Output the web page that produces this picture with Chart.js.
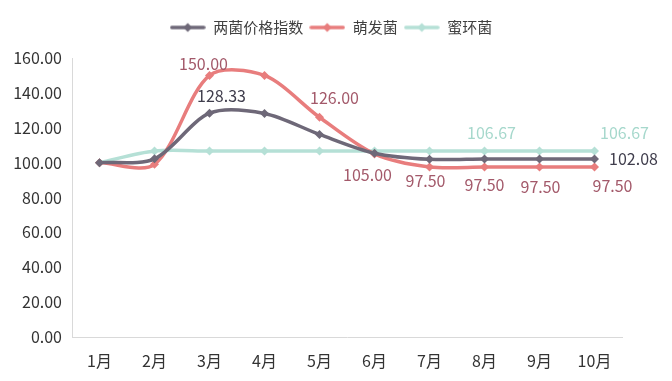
<!DOCTYPE html>
<html>
<head>
<meta charset="utf-8">
<script src="https://cdn.jsdelivr.net/npm/chart.js@4.4.0/dist/chart.umd.min.js"></script>
<style>
    html, body { margin: 0; padding: 0; background: #fff; }
    #wrap { width: 672px; height: 381px; }
</style>
</head>
<body>
<div id="wrap"><canvas id="chart"></canvas></div>
<script>
// 数据
const months = ['1月', '2月', '3月', '4月', '5月', '6月', '7月', '8月', '9月', '10月'];
const indexValues = [100, 102.2, 128.33, 128.2, 116.2, 105.4, 101.9, 102.08, 102.08, 102.08];
const sproutValues = [100, 99.0, 150, 150, 126, 105, 97.5, 97.5, 97.5, 97.5];
const honeyValues = [100, 106.67, 106.67, 106.67, 106.67, 106.67, 106.67, 106.67, 106.67, 106.67];
const yTicks = [0, 20, 40, 60, 80, 100, 120, 140, 160];

const FONT = '"Noto Sans CJK SC", "Noto Sans", sans-serif';

// 图例图标：线 + 菱形
function legendIcon(color) {
    const c = document.createElement('canvas');
    c.width = 36;
    c.height = 12;
    const ctx = c.getContext('2d');
    ctx.strokeStyle = color;
    ctx.lineWidth = 3.5;
    ctx.lineCap = 'round';
    ctx.beginPath();
    ctx.moveTo(2, 6);
    ctx.lineTo(34, 6);
    ctx.stroke();
    ctx.fillStyle = color;
    ctx.beginPath();
    ctx.moveTo(18, 1.5);
    ctx.lineTo(22.5, 6);
    ctx.lineTo(18, 10.5);
    ctx.lineTo(13.5, 6);
    ctx.closePath();
    ctx.fill();
    return c;
}

// 数据标签（哪个点、相对偏移）
const labelSpecs = [
    { color: '#3f3d4c', items: [{ i: 2, dx: 12, dy: -17 }, { i: 9, dx: 39, dy: 0 }] },
    { color: '#a3596a', items: [{ i: 2, dx: -6, dy: -12 }, { i: 4, dx: 15, dy: -19 }, { i: 5, dx: -7, dy: 21 },
                                 { i: 6, dx: -4, dy: 14 }, { i: 7, dx: 0, dy: 18 }, { i: 8, dx: 1, dy: 20 }, { i: 9, dx: 18, dy: 19 }] },
    { color: '#a6d8cc', items: [{ i: 7, dx: 7, dy: -18 }, { i: 9, dx: 30, dy: -18 }] }
];

const dataLabels = {
    id: 'dataLabels',
    afterDatasetsDraw(chart) {
        const ctx = chart.ctx;
        ctx.save();
        ctx.font = '16px ' + FONT;
        ctx.textAlign = 'center';
        ctx.textBaseline = 'middle';
        labelSpecs.forEach((spec, di) => {
            const meta = chart.getDatasetMeta(di);
            const values = chart.data.datasets[di].data;
            ctx.fillStyle = spec.color;
            spec.items.forEach(it => {
                const pt = meta.data[it.i];
                ctx.fillText(values[it.i].toFixed(2), pt.x + it.dx, pt.y + it.dy);
            });
        });
        ctx.restore();
    }
};

// 图例下方留空，并整体右移
const legendGap = {
    id: 'legendGap',
    afterInit(chart) {
        const legend = chart.legend;
        const fit = legend.fit;
        legend.fit = function () {
            fit.call(this);
            this.height += 13;
        };
        const draw = legend.draw;
        legend.draw = function () {
            this.ctx.save();
            this.ctx.translate(20, 0);
            draw.call(this);
            this.ctx.restore();
        };
    }
};

function makeSeries(label, data, color) {
    return {
        label: label,
        data: data,
        borderColor: color,
        backgroundColor: color,
        borderWidth: 3.5,
        tension: 0.3,
        pointStyle: 'rectRot',
        pointRadius: 4.5,
        pointBorderWidth: 0,
        pointBackgroundColor: color
    };
}

const series = [
    makeSeries('两菌价格指数', indexValues, '#6e6878'),
    makeSeries('萌发菌', sproutValues, '#e87d7d'),
    makeSeries('蜜环菌', honeyValues, '#b5e0d6')
];

new Chart(document.getElementById('chart'), {
    type: 'line',
    data: { labels: months, datasets: series },
    plugins: [dataLabels, legendGap],
    options: {
        responsive: true,
        maintainAspectRatio: false,
        animation: false,
        layout: { padding: { left: 0, right: 50, top: 14, bottom: 0 } },
        plugins: {
            tooltip: { enabled: false },
            legend: {
                position: 'top',
                labels: {
                    font: { family: FONT, size: 15 },
                    color: '#404040',
                    usePointStyle: true,
                    pointStyleWidth: 36,
                    padding: 6,
                    generateLabels(chart) {
                        return chart.data.datasets.map((ds, i) => ({
                            text: ds.label,
                            fontColor: '#404040',
                            pointStyle: legendIcon(ds.borderColor),
                            datasetIndex: i,
                            hidden: false,
                            lineWidth: 0
                        }));
                    }
                }
            }
        },
        scales: {
            x: {
                offset: true,
                grid: { display: false },
                border: { display: true, color: '#d9d9d9', width: 1 },
                ticks: { font: { family: FONT, size: 16 }, color: '#333333', padding: 6 },
                afterFit(scale) { scale.height = 44; }
            },
            y: {
                min: 0,
                max: 160,
                grid: { display: false },
                border: { display: true, color: '#d9d9d9', width: 1 },
                afterBuildTicks(scale) { scale.ticks = yTicks.map(v => ({ value: v })); },
                ticks: {
                    font: { family: FONT, size: 16 },
                    color: '#333333',
                    padding: 2,
                    callback: v => Number(v).toFixed(2)
                },
                afterFit(scale) { scale.width = 72; }
            }
        }
    }
});
</script>
</body>
</html>
